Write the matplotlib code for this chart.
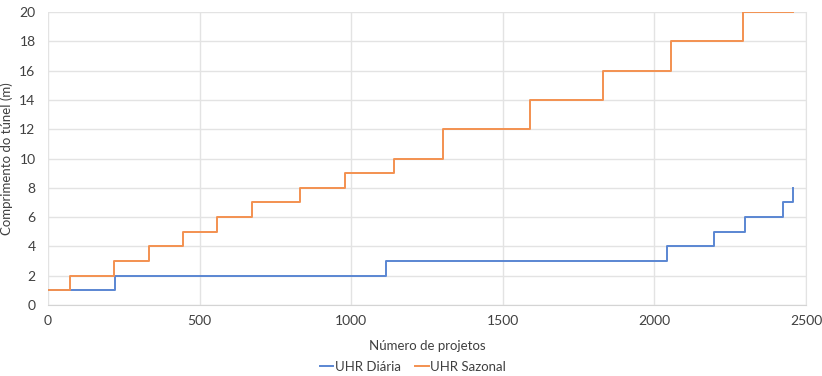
import matplotlib
matplotlib.use("Agg")
import matplotlib.pyplot as plt

# Data (step breakpoints: value holds from x[i] to x[i+1])
diaria_x = [0, 221, 1116, 2042, 2195, 2300, 2425, 2456]
diaria_y = [1, 2, 3, 4, 5, 6, 7, 8]
sazonal_x = [0, 73, 219, 334, 444, 556, 674, 831, 981, 1140, 1302, 1591, 1830, 2055, 2293, 2456]
sazonal_y = [1, 2, 3, 4, 5, 6, 7, 8, 9, 10, 12, 14, 16, 18, 20, 20]

x_ticks = [0, 500, 1000, 1500, 2000, 2500]
y_ticks = [0, 2, 4, 6, 8, 10, 12, 14, 16, 18, 20]

plt.rcParams['font.family'] = ['Lato', 'DejaVu Sans']

fig = plt.figure(figsize=(8.22, 3.76), dpi=100)
ax = fig.add_axes([48/822, 1 - 305/376, (806-48)/822, (305-12)/376])

ax.step(diaria_x, diaria_y, where='post', color='#5A86D2', lw=1.4, label='UHR Diária')
ax.step(sazonal_x, sazonal_y, where='post', color='#F39150', lw=1.4, label='UHR Sazonal')

ax.set_xlim(0, 2500)
ax.set_ylim(0, 20)
ax.set_xticks(x_ticks)
ax.set_yticks(y_ticks)
ax.grid(True, color='#e3e3e3', lw=1.0)
ax.set_axisbelow(True)
for s in ['top', 'left']:
    ax.spines[s].set_visible(False)
ax.spines['right'].set_color('#e3e3e3')
ax.spines['bottom'].set_color('#d4d4d4')
ax.tick_params(length=0, labelsize=10, colors='#404040', pad=7)
ax.tick_params(axis='y', pad=9)

ax.set_xlabel('Número de projetos', fontsize=9.5, color='#404040')
ax.set_ylabel('Comprimento do túnel (m)', fontsize=9.5, color='#404040')
ax.xaxis.set_label_coords(0.5, -(340 - 305) / 293)
ax.yaxis.set_label_coords((13 - 48) / 758, 0.5)

fig.legend(loc='center', bbox_to_anchor=(413/822, 1 - 367/376), ncol=2, frameon=False,
           fontsize=9.5, handlelength=1.0, handletextpad=0.15, columnspacing=1.1,
           labelcolor='#404040')

fig.savefig('out.png', dpi=100)
